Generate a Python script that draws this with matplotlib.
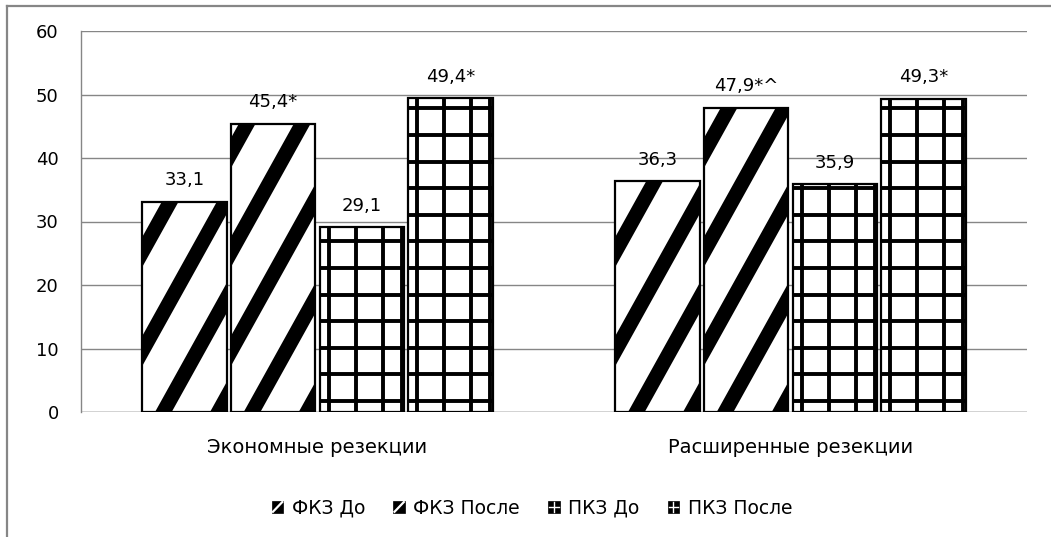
import numpy as np
import matplotlib
matplotlib.use("Agg")
import matplotlib.pyplot as plt
from matplotlib.lines import Line2D
from matplotlib.patches import Rectangle

plt.rcParams['font.family'] = ['DejaVu Sans']

categories = ['Экономные резекции', 'Расширенные резекции']
series = ['ФКЗ До', 'ФКЗ После', 'ПКЗ До', 'ПКЗ После']
values = [
    [33.1, 36.3],   # ФКЗ До
    [45.4, 47.9],   # ФКЗ После
    [29.1, 35.9],   # ПКЗ До
    [49.4, 49.3],   # ПКЗ После
]
labels = [
    ['33,1', '36,3'],
    ['45,4*', '47,9*^'],
    ['29,1', '35,9'],
    ['49,4*', '49,3*'],
]
kinds = ['stripe', 'stripe', 'grid', 'grid']
yticks = [0, 10, 20, 30, 40, 50, 60]

W, H = 1051, 537
fig = plt.figure(figsize=(W / 100, H / 100), dpi=100)
ax = fig.add_axes([81 / W, (H - 412) / H, 946 / W, 381 / H])

grey = '#868686'
ax.set_xlim(-0.5, 1.5)
ax.set_ylim(0, 60)
ax.set_yticks(yticks)
ax.yaxis.grid(True, color=grey, lw=1.0)
ax.set_axisbelow(True)
for s in ['top', 'right', 'bottom']:
    ax.spines[s].set_visible(False)
ax.spines['left'].set_color(grey)
ax.spines['left'].set_linewidth(1.0)
ax.axhline(0, color=grey, lw=1.0, zorder=0.5)
ax.tick_params(axis='y', length=0, pad=16, labelsize=13)
ax.tick_params(axis='x', length=0, pad=19, labelsize=14)
ax.set_xticks([0, 1])
ax.set_xticklabels(categories)

x = np.arange(len(categories))
pitch = 0.1875
bw = 0.178
bars = []
for i, name in enumerate(series):
    b = ax.bar(x + (i - 1.5) * pitch, values[i], bw, color='white',
               edgecolor='black', linewidth=1.6, zorder=2)
    bars.append(b)
    for rect, txt in zip(b, labels[i]):
        ax.annotate(txt, (rect.get_x() + rect.get_width() / 2, rect.get_height()),
                    xytext=(0, 9), textcoords='offset points',
                    ha='center', va='bottom', fontsize=13)

# fill patterns, drawn in pixel space and clipped to each bar
inv = ax.transData.inverted()


def pix_line(p, q, lw, rect):
    d = inv.transform([p, q])
    ln = Line2D(d[:, 0], d[:, 1], color='black', lw=lw,
                solid_capstyle='butt', zorder=3)
    ax.add_line(ln)
    ln.set_clip_path(rect)


slope = 1.8
for i, b in enumerate(bars):
    for rect in b:
        (x0, y0), (x1, y1) = ax.transData.transform(
            [(rect.get_x(), 0), (rect.get_x() + rect.get_width(), rect.get_height())])
        if kinds[i] == 'stripe':
            h = y1 - y0
            for k in range(-6, 3):
                xb = x0 + 21 + 55 * k
                pix_line((xb - 5 / slope, y0 - 5), (xb + (h + 5) / slope, y1 + 5), 10.5, rect)
        else:
            for off in [9, 36, 63, 82]:
                pix_line((x0 + off, y0), (x0 + off, y1), 2.8, rect)
            yy = y0 + 11
            while yy < y1 - 2:
                pix_line((x0, yy), (x1, yy), 2.8, rect)
                yy += 26.6


# small black legend squares with a white pattern
class Mark:
    def __init__(self, kind):
        self.kind = kind


class MarkHandler:
    def legend_artist(self, legend, orig_handle, fontsize, handlebox):
        x0, y0 = -handlebox.xdescent, -handlebox.ydescent
        w, h = handlebox.width, handlebox.height
        tr = handlebox.get_transform()
        sq = Rectangle((x0, y0), w, h, facecolor='black', edgecolor='black',
                       lw=0.5, transform=tr)
        handlebox.add_artist(sq)
        if orig_handle.kind == 'stripe':
            segs = [([x0 + 0.1 * w, x0 + 0.9 * w], [y0 + 0.1 * h, y0 + 0.9 * h])]
            lw = 1.6
        else:
            segs = [([x0 + 0.5 * w] * 2, [y0 + 0.1 * h, y0 + 0.9 * h]),
                    ([x0 + 0.1 * w, x0 + 0.9 * w], [y0 + 0.5 * h] * 2)]
            lw = 1.0
        for xs, ys in segs:
            handlebox.add_artist(Line2D(xs, ys, color='white', lw=lw, transform=tr))
        return sq


handles = [Mark(k) for k in kinds]
fig.legend(handles, series, loc='center', bbox_to_anchor=(532 / W, 1 - 508 / H),
           ncol=4, frameon=False, fontsize=13.5, handlelength=0.62, handleheight=0.62,
           handletextpad=0.45, columnspacing=1.5,
           handler_map={Mark: MarkHandler()})

# outer chart frame (left and top edges)
fig.add_artist(Line2D([7 / W, 7 / W], [0, 1 - 6 / H], color=grey, lw=1.6,
                      transform=fig.transFigure))
fig.add_artist(Line2D([7 / W, 1], [1 - 6 / H, 1 - 6 / H], color=grey, lw=1.6,
                      transform=fig.transFigure))

fig.savefig('out.png', dpi=100)
